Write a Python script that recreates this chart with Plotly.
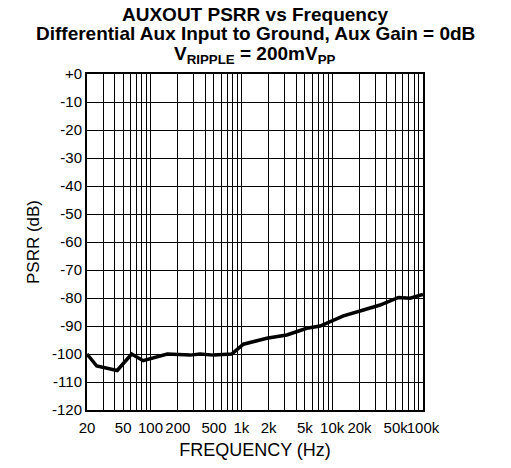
import plotly.graph_objects as go

# Measured AUXOUT PSRR curve
freq_hz = [20, 25.6, 43, 62, 83, 103, 153, 272, 352, 492, 784, 1054, 1905, 3165,
           5256, 7364, 13300, 22100, 33700, 53700, 72100, 100000]
psrr_db = [-100, -104.3, -105.9, -100, -102.4, -101.6, -100, -100.4, -100, -100.4,
           -100, -96.5, -94.4, -93.2, -90.8, -90, -86.4, -84.3, -82.5, -79.8, -80.1, -78.7]

# Axis ticks
x_labeled = [20, 50, 100, 200, 500, 1000, 2000, 5000, 10000, 20000, 50000, 100000]
x_labels = ["20", "50", "100", "200", "500", "1k", "2k", "5k", "10k", "20k", "50k", "100k"]
y_ticks = [0, -10, -20, -30, -40, -50, -60, -70, -80, -90, -100, -110, -120]
y_labels = ["+0", "-10", "-20", "-30", "-40", "-50", "-60", "-70", "-80", "-90",
            "-100", "-110", "-120"]

title_lines = [
    "AUXOUT PSRR vs Frequency",
    "Differential Aux Input to Ground, Aux Gain = 0dB",
    "V<sub>RIPPLE</sub> = 200mV<sub>PP</sub>",
]

# Log grid: every integer multiple within each decade, 20 Hz .. 100 kHz
grid_vals = []
for dec in [10, 100, 1000, 10000]:
    for m in range(1, 10):
        v = m * dec
        if 20 <= v <= 100000:
            grid_vals.append(v)
grid_vals.append(100000)
grid_text = [x_labels[x_labeled.index(v)] if v in x_labeled else "" for v in grid_vals]

font = "Liberation Sans, Arial, sans-serif"

fig = go.Figure()
fig.add_trace(go.Scatter(x=freq_hz, y=psrr_db, mode="lines",
                         line=dict(color="black", width=3.5), showlegend=False))

fig.update_layout(
    width=511, height=468,
    margin=dict(l=87, r=88, t=74, b=58, autoexpand=False),
    paper_bgcolor="white", plot_bgcolor="white",
    font=dict(family=font, size=15, color="black"),
)

# Three-line bold heading above the plot area
for text, shift in zip(title_lines, [60, 41, 19]):
    fig.add_annotation(
        text="<b>" + text + "</b>", xref="paper", yref="paper",
        x=0.5, y=1, xanchor="center", yanchor="middle", yshift=shift,
        showarrow=False, font=dict(family=font, size=19, color="black"),
    )

fig.update_xaxes(
    type="log", range=[1.30103, 5],
    tickmode="array", tickvals=grid_vals, ticktext=grid_text, tickangle=0,
    ticks="", showgrid=True, gridcolor="black", gridwidth=1,
    showline=True, linecolor="black", linewidth=2, mirror=True,
    title=dict(text="FREQUENCY (Hz)", standoff=8, font=dict(size=18)),
    tickfont=dict(size=15), zeroline=False, ticklabelstandoff=3, automargin=False,
)
fig.update_yaxes(
    range=[-120, 0], tickmode="array", tickvals=y_ticks, ticktext=y_labels,
    ticks="", showgrid=True, gridcolor="black", gridwidth=1,
    showline=True, linecolor="black", linewidth=2, mirror=True, zeroline=False,
    title=dict(text="PSRR (dB)", standoff=8, font=dict(size=17)),
    tickfont=dict(size=15), automargin=False,
)

fig.write_html("out.html")
